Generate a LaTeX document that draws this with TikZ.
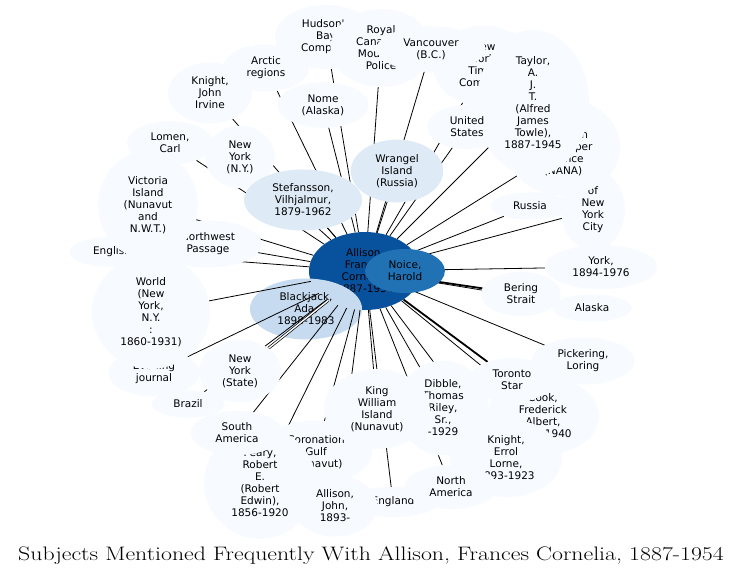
\documentclass[tikz,border=0pt]{standalone}
\usepackage{fontspec}
\usepackage{graphicx}
\usepackage{tikz}
\usetikzlibrary{shapes.geometric}
\newfontfamily\subjfont{DejaVu Sans}
\definecolor{blue9}{HTML}{08519C}
\definecolor{blue7}{HTML}{2171B5}
\definecolor{blue3}{HTML}{C6DBEF}
\definecolor{blue2}{HTML}{DEEBF7}
\definecolor{blue1}{HTML}{F7FBFF}
\pgfdeclarelayer{hubs}
\pgfdeclarelayer{links}
\pgfsetlayers{hubs,links,main}
\def\width{743}
\def\hauteur{579}

\begin{document}
\begin{tikzpicture}[x=1pt, y=-1pt,
	subj/.style={ellipse, fill=blue1, align=center, inner xsep=11pt, inner ysep=5.5pt,
		font=\subjfont\fontsize{10.5}{12}\selectfont},
	hub/.style={subj, fill=#1},
	edge/.style={line width=0.8pt, black},
	heavy/.style={line width=1.8pt, black},
	twin/.style={double=white, double distance=1.4pt, line width=0.7pt, black}]
	\begin{pgfonlayer}{hubs}
	\useasboundingbox[fill=white] (0,0) rectangle (\width,\hauteur);
	% central subjects
	\node[hub=blue9] (allison) at (365,271){Allison,\\Frances\\Cornelia,\\1887-1954};
	\node[hub=blue3] (blackjack) at (306,309){Blackjack,\\Ada,\\1898-1983};
	\end{pgfonlayer}
	\node[hub=blue7] (noice) at (405,271){Noice,\\Harold};
	% outer subjects
	\node[subj] (hudson) at (326,37){Hudson's\\Bay\\Company};
	\node[subj] (royal) at (381,48){Royal\\Canadian\\Mounted\\Police};
	\node[subj] (nytimes) at (484,66){New\\York\\Times\\Company};
	\node[subj] (vancouver) at (431,49){Vancouver\\(B.C.)};
	\node[subj] (york) at (601,267){York,\\1894-1976};
	\node[subj] (nyc) at (593,210){of\\New\\York\\City};
	\node[subj] (nana) at (563,147){North\\American\\Newspaper\\Alliance\\(NANA)};
	\node[subj] (taylor) at (533,103){Taylor,\\A.\\J.\\T.\\(Alfred\\James\\Towle),\\1887-1945};
	\node[subj] (usa) at (467,127){United\\States};
	\node[subj] (russia) at (530,206){Russia};
	\node[subj] (bering) at (521,294){Bering\\Strait};
	\node[subj] (alaska) at (592,308){Alaska};
	\node[subj] (pickering) at (583,361){Pickering,\\Loring};
	\node[subj] (cook) at (543,416){Cook,\\Frederick\\Albert,\\1865-1940};
	\node[subj] (toronto) at (512,380){Toronto\\Star};
	\node[subj] (knighte) at (506,458){Knight,\\Errol\\Lorne,\\1893-1923};
	\node[subj] (england) at (393,502){England};
	\node[subj] (namerica) at (451,487){North\\America};
	\node[subj] (dibble) at (443,408){Dibble,\\Thomas\\Riley,\\Sr.,\\-1929};
	\node[subj] (coronation) at (316,452){Coronation\\Gulf\\(Nunavut)};
	\node[subj] (kingwm) at (377,409){King\\William\\Island\\(Nunavut)};
	\node[subj] (johna) at (335,506){Allison,\\John,\\1893-};
	\node[subj] (peary) at (260,483){Peary,\\Robert\\E.\\(Robert\\Edwin),\\1856-1920};
	\node[subj] (samerica) at (237,433){South\\America};
	\node[subj] (brazil) at (188,404){Brazil};
	\node[subj] (evening) at (154,373){Evening\\journal};
	\node[subj] (nystate) at (240,371){New\\York\\(State)};
	\node[subj] (world) at (151,312){World\\(New\\York,\\N.Y.\\:\\1860-1931)};
	\node[subj] (english) at (112,252){English};
	\node[subj] (nwpass) at (208,244){Northwest\\Passage};
	\node[subj] (lomen) at (170,143){Lomen,\\Carl};
	\node[subj, minimum height=108pt] (victoria) at (148,205){Victoria\\Island\\(Nunavut\\and\\N.W.T.)};
	\node[subj] (nyny) at (240,157){New\\York\\(N.Y.)};
	\node[subj] (knightj) at (210,93){Knight,\\John\\Irvine};
	\node[subj] (arctic) at (266,68){Arctic\\regions};
	\node[subj] (nome) at (323,105){Nome\\(Alaska)};
	\node[hub=blue2] (stefansson) at (303,200){Stefansson,\\Vilhjalmur,\\1879-1962};
	\node[hub=blue2] (wrangel) at (397,171){Wrangel\\Island\\(Russia)};
	% connectors
	\begin{pgfonlayer}{links}
	\foreach \n in {hudson, royal, nytimes, vancouver, nana, taylor, usa, nyc, york,
		russia, alaska, pickering, cook, knighte, england, namerica, dibble, coronation,
		kingwm, johna, peary, samerica, brazil, evening, world, english, nwpass,
		victoria, lomen, nyny, knightj, arctic, nome, stefansson, wrangel}
		\draw[edge] (allison) -- (\n);
	\draw[heavy] (allison) -- (toronto);
	\draw[heavy] (allison) -- (bering);
	\draw[twin] (allison) -- (nystate);
	\end{pgfonlayer}
	% caption
	\node[font=\fontsize{19.5}{22}\selectfont] (caption) at (371,556){\scalebox{1.22}[1]{Subjects Mentioned Frequently With Allison, Frances Cornelia, 1887-1954}};
\end{tikzpicture}
\end{document}
